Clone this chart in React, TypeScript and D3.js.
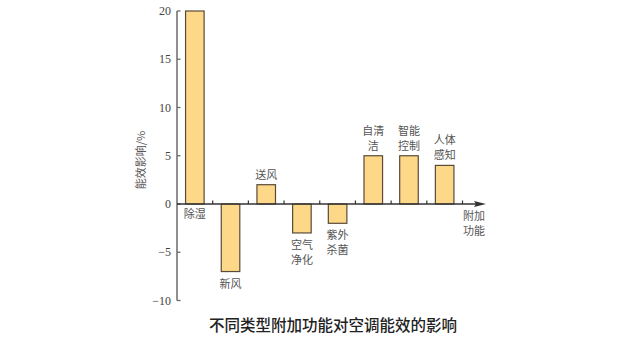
import React from "react";
import * as d3 from "d3";

const categories = ["除湿", "新风", "送风", "空气净化", "紫外杀菌", "自清洁", "智能控制", "人体感知"];
const values = [20, -7, 2, -3, -2, 5, 5, 4];
const labelLines = [["除湿"], ["新风"], ["送风"], ["空气", "净化"], ["紫外", "杀菌"], ["自清", "洁"], ["智能", "控制"], ["人体", "感知"]];
const yTicks = [-10, -5, 0, 5, 10, 15, 20];

export default function App() {
  const W = 622, H = 339;
  const x0 = 177, x1 = 462.5;
  const x = d3.scaleBand<string>().domain(categories).range([x0, x1]).paddingInner(0.48).paddingOuter(0.24);
  const y = d3.scaleLinear().domain([-10, 20]).range([300.5, 11]);
  const y0 = y(0);
  const step = x.step();
  const serif = "'Liberation Serif', 'DejaVu Serif', serif";
  const cjk = "'Noto Sans CJK SC', sans-serif";
  const axisColor = "#6a6a6a";
  const lh = 15;
  const fs = 11;
  return (
    <div style={{ position: "absolute", left: 0, top: 0 }}>
      <svg width={W} height={H} style={{ display: "block", background: "#fff" }}>
        {categories.map((c, i) => {
          const v = values[i];
          const top = Math.min(y(v), y0);
          const h = Math.abs(y(v) - y0);
          return (
            <rect key={c} x={x(c)} y={top} width={x.bandwidth()} height={h}
              fill="#fcd888" stroke="#5a4a38" strokeWidth={1.2} />
          );
        })}
        <line x1={x0} x2={x0} y1={y(20)} y2={y(-10)} stroke={axisColor} strokeWidth={1.5} />
        {yTicks.map(t => (
          <g key={t}>
            <line x1={x0} x2={x0 + 3.5} y1={y(t)} y2={y(t)} stroke={axisColor} strokeWidth={1.3} />
            <text x={x0 - 6} y={y(t)} dy="0.35em" textAnchor="end" fontFamily={serif} fontSize={12} fill="#444">
              {t < 0 ? "\u2212" + Math.abs(t) : t}
            </text>
          </g>
        ))}
        <line x1={x0} x2={476} y1={y0} y2={y0} stroke="#333" strokeWidth={1.3} />
        <path d={`M 486 ${y0} L 474 ${y0 - 3} L 476 ${y0} L 474 ${y0 + 3} Z`} fill="#333" />
        {categories.map((c, i) => {
          const bx = x0 + step * (i + 1);
          return <line key={"t" + c} x1={bx} x2={bx} y1={y0} y2={y0 - 3.5} stroke="#333" strokeWidth={1.2} />;
        })}
        {categories.map((c, i) => {
          const v = values[i];
          const cx = (x(c) as number) + x.bandwidth() / 2;
          const lines = labelLines[i];
          let startY: number;
          if (i === 0) startY = y0 + 14;
          else if (v < 0) startY = y(v) + 16;
          else startY = y(v) - 6 - (lines.length - 1) * lh;
          return (
            <g key={"l" + c}>
              {lines.map((ln, k) => (
                <text key={k} x={cx} y={startY + k * lh} textAnchor="middle" fontFamily={cjk} fontSize={fs} fill="#555">{ln}</text>
              ))}
            </g>
          );
        })}
        <text x={474} y={220} textAnchor="middle" fontFamily={cjk} fontSize={fs} fill="#555">附加</text>
        <text x={474} y={235} textAnchor="middle" fontFamily={cjk} fontSize={fs} fill="#555">功能</text>
        <text transform={`translate(145,160) rotate(-90)`} textAnchor="middle" fontFamily={cjk} fontSize={11} fill="#555">
          能效影响/%
        </text>
        <text x={333} y={330.5} textAnchor="middle" fontFamily={cjk} fontSize={15.5} fontWeight={500} fill="#222">
          不同类型附加功能对空调能效的影响
        </text>
      </svg>
    </div>
  );
}
